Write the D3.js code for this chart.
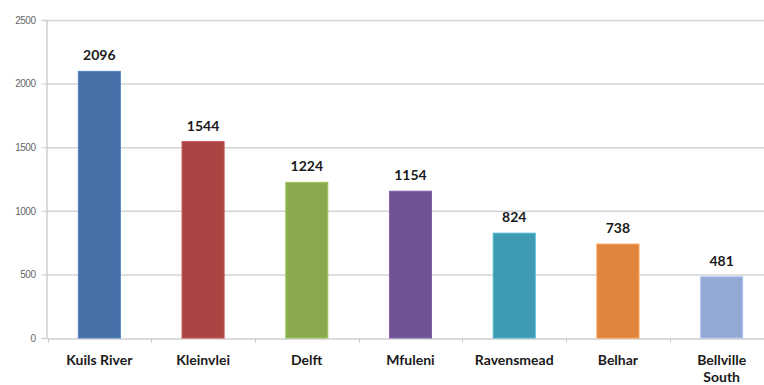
<!DOCTYPE html>
<html>
<head>
<meta charset="utf-8">
<script src="https://cdn.jsdelivr.net/npm/d3@7"></script>
<style>
  html, body { margin: 0; padding: 0; background: #fff; }
  svg { display: block; }
</style>
</head>
<body>
<svg id="chart" width="764" height="385"></svg>
<script>
const categories = ["Kuils River", "Kleinvlei", "Delft", "Mfuleni", "Ravensmead", "Belhar", "Bellville South"];
const values = [2096, 1544, 1224, 1154, 824, 738, 481];
const colors = ["#4571a8", "#a94542", "#8aab4d", "#6f5493", "#3f9bb2", "#df853d", "#93a9d3"];
const yTicks = [0, 500, 1000, 1500, 2000, 2500];

const svg = d3.select("#chart");
const plotLeft = 46, plotRight = 773.5, plotTop = 20, plotBottom = 338;

const x = d3.scaleBand().domain(categories).range([plotLeft + 1.5, plotRight]).paddingInner(0.595).paddingOuter(0.2975);
const y = d3.scaleLinear().domain([0, 2500]).range([plotBottom, plotTop]);

// gridlines
svg.append("g").selectAll("line").data(yTicks.filter(d => d > 0)).join("line")
  .attr("x1", plotLeft).attr("x2", 764)
  .attr("y1", d => y(d) + 0.5).attr("y2", d => y(d) + 0.5)
  .attr("stroke", "#d4d4d4").attr("stroke-width", 1.5);

// y axis
const yAxis = d3.axisLeft(y).tickValues(yTicks).tickSize(5).tickPadding(6).tickFormat(d3.format("d"));
const gy = svg.append("g").attr("transform", `translate(${plotLeft + 0.5},0)`).call(yAxis);
gy.select(".domain").attr("stroke", "#cfcfcf").attr("stroke-width", 1.5);
gy.selectAll(".tick line").attr("stroke", "#cfcfcf");
gy.selectAll(".tick text").attr("fill", "#666666").style("font-family", "'Liberation Sans', Arial, sans-serif").style("font-size", "10px").style("letter-spacing", "-0.5px");

// x axis
const step = x.step();
const xAxis = d3.axisBottom(x).tickSize(0).tickFormat("");
const gx = svg.append("g").attr("transform", `translate(0,${plotBottom + 0.5})`).call(xAxis);
gx.select(".domain").attr("stroke", "#cfcfcf").attr("stroke-width", 1.5);
// category boundary ticks
svg.append("g").selectAll("line").data(categories).join("line")
  .attr("x1", c => Math.round(x(c) + x.bandwidth() / 2 - step / 2) + 0.5)
  .attr("x2", c => Math.round(x(c) + x.bandwidth() / 2 - step / 2) + 0.5)
  .attr("y1", plotBottom).attr("y2", plotBottom + 5)
  .attr("stroke", "#cfcfcf");

// bars
svg.append("g").selectAll("rect").data(categories).join("rect")
  .attr("x", c => x(c)).attr("width", x.bandwidth())
  .attr("y", (c, i) => y(values[i])).attr("height", (c, i) => plotBottom - y(values[i]))
  .attr("fill", (c, i) => colors[i])
  .attr("stroke", (c, i) => d3.color(colors[i]).brighter(0.4))
  .attr("stroke-width", 1);

// value labels
svg.append("g").selectAll("text").data(categories).join("text")
  .attr("x", c => x(c) + x.bandwidth() / 2)
  .attr("y", (c, i) => y(values[i]) - 11)
  .attr("text-anchor", "middle")
  .attr("fill", "#1a1a1a")
  .style("font-family", "Lato, 'Open Sans', sans-serif")
  .style("font-weight", "bold")
  .style("font-size", "14px")
  .text((c, i) => values[i]);

// category labels
const catG = svg.append("g");
categories.forEach(c => {
  const words = c === "Bellville South" ? ["Bellville", "South"] : [c];
  const t = catG.append("text")
    .attr("x", x(c) + x.bandwidth() / 2)
    .attr("y", 365)
    .attr("text-anchor", "middle")
    .attr("fill", "#1a1a1a")
    .style("font-family", "Lato, 'Open Sans', sans-serif")
    .style("font-weight", "bold")
    .style("font-size", "14px");
  words.forEach((w, k) => {
    t.append("tspan").attr("x", x(c) + x.bandwidth() / 2).attr("dy", k === 0 ? 0 : 17).text(w);
  });
});
</script>
</body>
</html>
